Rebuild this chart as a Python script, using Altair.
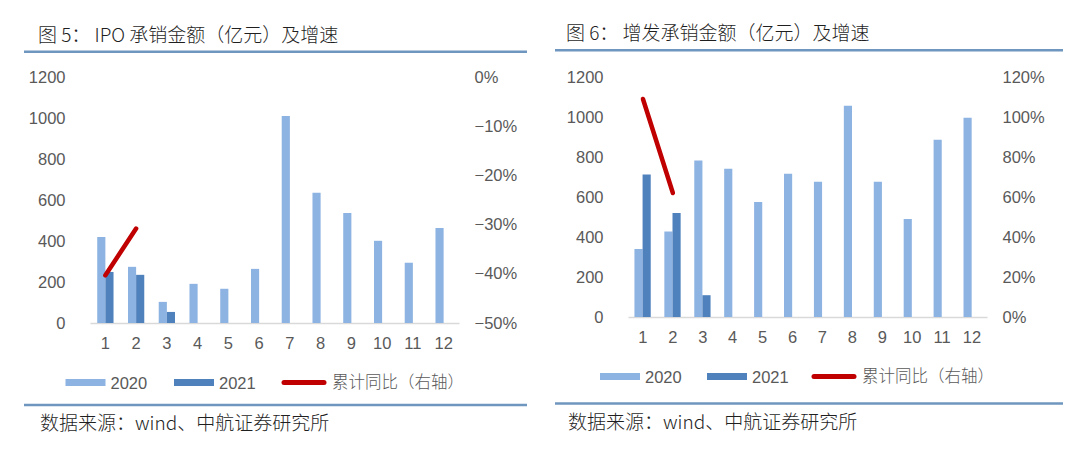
import altair as alt
import pandas as pd

# ---------------- data ----------------
months = list(range(1, 13))
years = ["2020", "2021"]
line_name = "累计同比（右轴）"

ipo_2020 = [420, 274, 103, 191, 167, 264, 1010, 635, 537, 401, 294, 464]
ipo_2021 = [249, 235, 54]
ipo_yoy = [-0.403, -0.308]

spo_2020 = [340, 427, 782, 741, 575, 716, 676, 1056, 676, 490, 886, 996]
spo_2021 = [713, 520, 109]
spo_yoy = [1.09, 0.62]

titles = ["图 5： IPO 承销金额（亿元）及增速", "图 6： 增发承销金额（亿元）及增速"]
source_text = "数据来源：wind、中航证券研究所"

left_ticks = [0, 200, 400, 600, 800, 1000, 1200]
ipo_right_ticks = [-0.5, -0.4, -0.3, -0.2, -0.1, 0.0]
spo_right_ticks = [0.0, 0.2, 0.4, 0.6, 0.8, 1.0, 1.2]

# ---------------- style ----------------
C2020 = "#8db3e2"
C2021 = "#4f81bd"
CLINE = "#c00000"
CDIV = "#6f96bf"
CTXT = "#595959"
CTITLE = "#1f1f1f"
NUMFONT = "Liberation Sans"
CJKFONT = "Noto Sans CJK SC"


def panel(v2020, v2021, yoy, rdomain, rticks, title, g):
    rows = [{"month": m, "year": "2020", "value": v} for m, v in zip(months, v2020)]
    rows += [{"month": m, "year": "2021", "value": v} for m, v in zip(months, v2021)]
    bars_df = pd.DataFrame(rows)
    line_df = pd.DataFrame({"month": months[: len(yoy)], "yoy": yoy})
    one = pd.DataFrame({"a": [0]})

    X = alt.X(
        "month:O",
        scale=alt.Scale(domain=months, paddingInner=g["pi"], paddingOuter=g["pi"] / 2),
        axis=alt.Axis(
            title=None, labelAngle=0, ticks=False, domainColor="#d9d9d9",
            domainWidth=1.5, labelFont=NUMFONT, labelFontSize=16.5,
            labelColor=CTXT, labelPadding=12, grid=False,
        ),
    )

    bars = alt.Chart(bars_df).mark_bar().encode(
        x=X,
        xOffset=alt.XOffset(
            "year:N", scale=alt.Scale(domain=years, paddingInner=0, paddingOuter=0)
        ),
        y=alt.Y(
            "value:Q",
            scale=alt.Scale(domain=[0, 1200], nice=False),
            axis=alt.Axis(
                orient="left", values=left_ticks, format="d", title=None,
                domain=False, ticks=False, grid=False, labelFont=NUMFONT,
                labelFontSize=16.5, labelColor=CTXT, labelPadding=25,
            ),
        ),
        color=alt.Color(
            "year:N", scale=alt.Scale(domain=years, range=[C2020, C2021]), legend=None
        ),
    )

    line = alt.Chart(line_df).mark_line(
        color=CLINE, strokeWidth=4.5, strokeCap="round"
    ).encode(
        x=X,
        y=alt.Y(
            "yoy:Q",
            scale=alt.Scale(domain=rdomain, nice=False),
            axis=alt.Axis(
                orient="right", values=rticks, format=".0%", title=None,
                domain=False, ticks=False, grid=False, labelFont=NUMFONT,
                labelFontSize=16.5, labelColor=CTXT, labelPadding=15,
            ),
        ),
    )

    base = alt.Chart(one)
    anchor = base.mark_rect(opacity=0).encode(
        x=alt.value(g["ax1"]), x2=alt.value(g["ax2"]),
        y=alt.value(g["ay1"]), y2=alt.value(g["ay2"]),
    )
    title_mark = base.mark_text(
        align="left", baseline="middle", font=CJKFONT, fontSize=19,
        fontWeight=300, color=CTITLE,
    ).encode(x=alt.value(g["tx"]), y=alt.value(g["ty"]), text=alt.value(title))
    top_rule = base.mark_rule(color=CDIV, strokeWidth=2.5).encode(
        x=alt.value(g["dx1"]), x2=alt.value(g["dx2"]), y=alt.value(g["dy1"])
    )
    bot_rule = base.mark_rule(color=CDIV, strokeWidth=2.5).encode(
        x=alt.value(g["dx1"]), x2=alt.value(g["dx2"]), y=alt.value(g["dy2"])
    )
    src = base.mark_text(
        align="left", baseline="middle", font=CJKFONT, fontSize=19,
        fontWeight=300, color=CTITLE,
    ).encode(x=alt.value(g["tx"] + 2), y=alt.value(g["sy"]), text=alt.value(source_text))

    ly = g["ly"]
    lx = g["lx"]
    sw1 = base.mark_rect(color=C2020).encode(
        x=alt.value(lx[0]), x2=alt.value(lx[0] + 40),
        y=alt.value(ly - 3.5), y2=alt.value(ly + 3.5),
    )
    t1 = base.mark_text(
        align="left", baseline="middle", font=NUMFONT, fontSize=16.5, color=CTXT
    ).encode(x=alt.value(lx[0] + 45), y=alt.value(ly + 1), text=alt.value(years[0]))
    sw2 = base.mark_rect(color=C2021).encode(
        x=alt.value(lx[1]), x2=alt.value(lx[1] + 40),
        y=alt.value(ly - 3.5), y2=alt.value(ly + 3.5),
    )
    t2 = base.mark_text(
        align="left", baseline="middle", font=NUMFONT, fontSize=16.5, color=CTXT
    ).encode(x=alt.value(lx[1] + 45), y=alt.value(ly + 1), text=alt.value(years[1]))
    sw3 = base.mark_rule(color=CLINE, strokeWidth=5, strokeCap="round").encode(
        x=alt.value(lx[2] + 2), x2=alt.value(lx[2] + 42), y=alt.value(ly)
    )
    t3 = base.mark_text(
        align="left", baseline="middle", font=CJKFONT, fontSize=16.5,
        fontWeight=300, color=CTXT,
    ).encode(x=alt.value(lx[2] + 50), y=alt.value(ly), text=alt.value(line_name))

    return alt.layer(
        anchor, bars, line, title_mark, top_rule, bot_rule, src,
        sw1, t1, sw2, t2, sw3, t3,
    ).resolve_scale(y="independent").properties(width=g["w"], height=g["h"])


geo_left = dict(
    w=369, h=246, pi=0.47,
    ax1=-82, ax2=450, ay1=-67, ay2=373,
    tx=-52, ty=-41, dx1=-66, dx2=437, dy1=-25.3, dy2=328,
    sy=346.5, ly=305.5, lx=[-24.5, 84, 192],
)
geo_right = dict(
    w=359, h=240, pi=0.43,
    ax1=-88, ax2=441, ay1=-68.5, ay2=371.5,
    tx=-62, ty=-43, dx1=-73, dx2=435, dy1=-26.8, dy2=326.5,
    sy=346, ly=299.5, lx=[-28, 79, 184],
)

left = panel(ipo_2020, ipo_2021, ipo_yoy, [-0.5, 0.0], ipo_right_ticks, titles[0], geo_left)
right = panel(spo_2020, spo_2021, spo_yoy, [0.0, 1.2], spo_right_ticks, titles[1], geo_right)

chart = (
    alt.hconcat(left, right, spacing=0)
    .properties(padding=0, background="white")
    .configure_view(stroke=None)
)

chart.save("out.html", embed_options={"renderer": "svg", "actions": False})
